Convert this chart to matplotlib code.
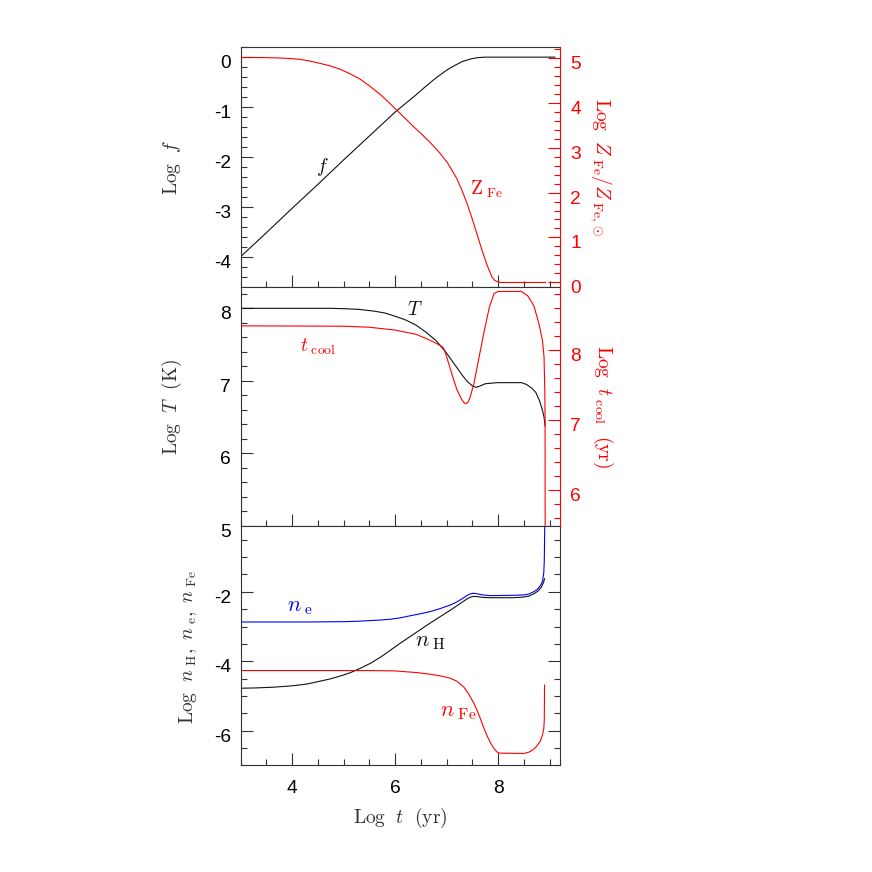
import matplotlib
matplotlib.use('Agg')
import matplotlib.pyplot as plt
import matplotlib.transforms as mtransforms
from matplotlib.ticker import MultipleLocator

# values (x = Log t [yr])
t_f = [3.0, 3.5, 4.0, 4.5, 5.0, 5.5, 5.75, 6.0, 6.2, 6.4, 6.6, 6.8, 7.0, 7.15, 7.3, 7.45,
       7.6, 7.75, 9.1]
log_f = [-4.00, -3.52, -3.03, -2.55, -2.06, -1.58, -1.34, -1.10, -0.93, -0.76, -0.58, -0.41,
         -0.26, -0.17, -0.09, -0.04, -0.01, 0.0, 0.0]

t_zfe = [3.0, 3.4, 3.75, 4.0, 4.15, 4.35, 4.54, 4.75, 4.93, 5.12, 5.32, 5.5, 5.71, 5.87, 6.03,
         6.2, 6.36, 6.52, 6.68, 6.85, 7.01, 7.1, 7.2, 7.3, 7.4, 7.5, 7.59, 7.69, 7.79, 7.84,
         7.88, 7.93, 7.98, 8.05, 8.92]
log_zfe = [5.00, 5.00, 4.99, 4.975, 4.96, 4.92, 4.87, 4.81, 4.74, 4.64, 4.52, 4.37, 4.18, 4.01,
           3.83, 3.64, 3.46, 3.29, 3.11, 2.90, 2.67, 2.50, 2.30, 2.04, 1.74, 1.40, 1.07, 0.70,
           0.37, 0.23, 0.12, 0.05, 0.02, 0.0, 0.0]

t_T = [3.0, 4.7, 5.0, 5.3, 5.6, 5.8, 6.0, 6.2, 6.4, 6.6, 6.8, 6.92, 7.0, 7.1, 7.2, 7.3, 7.4,
       7.5, 7.57, 7.65, 7.75, 7.9, 8.0, 8.45, 8.55, 8.65, 8.73, 8.8, 8.85, 8.89, 8.91]
log_T = [8.00, 8.00, 7.995, 7.985, 7.96, 7.935, 7.89, 7.84, 7.77, 7.67, 7.55, 7.45, 7.38, 7.28,
         7.18, 7.08, 6.99, 6.93, 6.91, 6.93, 6.96, 6.97, 6.975, 6.975, 6.95, 6.90, 6.84, 6.73,
         6.62, 6.50, 6.38]

t_cool_x = [3.0, 5.0, 5.5, 5.75, 6.0, 6.2, 6.4, 6.6, 6.8, 6.92, 6.96, 7.04, 7.14, 7.2, 7.27,
            7.33, 7.37, 7.41, 7.45, 7.53, 7.63, 7.73, 7.83, 7.92, 8.0, 8.45, 8.57, 8.65, 8.7,
            8.79, 8.86, 8.89, 8.905, 8.91, 8.912]
log_tcool = [8.34, 8.335, 8.32, 8.30, 8.28, 8.25, 8.22, 8.16, 8.09, 8.04, 7.99, 7.80, 7.56, 7.43,
             7.32, 7.25, 7.23, 7.25, 7.31, 7.52, 7.90, 8.27, 8.61, 8.80, 8.83, 8.83, 8.77, 8.68,
             8.61, 8.37, 8.13, 7.90, 7.40, 7.05, 5.0]

t_ne = [3.0, 4.3, 5.0, 5.26, 5.5, 5.7, 5.91, 6.1, 6.36, 6.5, 6.68, 6.88, 7.07, 7.2, 7.3, 7.4,
        7.46, 7.52, 7.6, 7.7, 7.85, 8.3, 8.5, 8.6, 8.7, 8.76, 8.82, 8.86, 8.885, 8.895, 8.90,
        8.905]
log_ne = [-2.87, -2.87, -2.86, -2.85, -2.83, -2.815, -2.79, -2.75, -2.67, -2.63, -2.57, -2.48,
          -2.38, -2.29, -2.20, -2.10, -2.06, -2.04, -2.06, -2.09, -2.11, -2.10, -2.09, -2.06,
          -1.99, -1.93, -1.82, -1.70, -1.45, -1.10, -0.55, 0.0]

t_nh = [3.0, 3.3, 3.63, 4.0, 4.28, 4.5, 4.74, 4.95, 5.13, 5.33, 5.52, 5.72, 5.91, 6.1, 6.36,
        6.5, 6.68, 6.88, 7.07, 7.27, 7.4, 7.47, 7.53, 7.6, 7.7, 7.85, 8.3, 8.5, 8.6, 8.7, 8.78,
        8.84, 8.88, 8.9]
log_nh = [-4.78, -4.77, -4.75, -4.71, -4.66, -4.59, -4.51, -4.42, -4.33, -4.20, -4.06, -3.88,
          -3.68, -3.48, -3.22, -3.08, -2.90, -2.71, -2.53, -2.33, -2.20, -2.15, -2.13, -2.14,
          -2.16, -2.17, -2.17, -2.15, -2.12, -2.05, -1.97, -1.86, -1.73, -1.62]

t_nfe = [3.0, 5.5, 6.0, 6.43, 6.7, 6.9, 7.07, 7.2, 7.33, 7.43, 7.53, 7.6, 7.66, 7.72, 7.79,
         7.86, 7.92, 7.97, 8.02, 8.5, 8.6, 8.69, 8.76, 8.82, 8.86, 8.885, 8.895, 8.90]
log_nfe = [-4.27, -4.27, -4.28, -4.33, -4.38, -4.43, -4.49, -4.58, -4.74, -4.95, -5.22, -5.45,
           -5.68, -5.92, -6.17, -6.38, -6.52, -6.61, -6.65, -6.66, -6.62, -6.54, -6.43, -6.29,
           -6.13, -5.95, -5.70, -4.69]

plt.rcParams['mathtext.fontset'] = 'cm'
plt.rcParams['axes.unicode_minus'] = False
plt.rcParams['font.family'] = 'Liberation Sans'

RED = '#ff0000'
BLUE = '#0000ff'
INK = '#111111'
AXC = '#333333'
LW = 0.8
TICK_FS = 13.8
LAB_FS = 14
N_FS = 16


def style_axis(ax, labelbottom=False, right_ticks=False):
    ax.set_xlim(3, 9.2)
    ax.xaxis.set_major_locator(MultipleLocator(2))
    ax.xaxis.set_minor_locator(MultipleLocator(0.5))
    ax.tick_params(axis='both', which='both', direction='in', top=False,
                   right=right_ticks, colors=AXC, labelcolor='black',
                   labelsize=TICK_FS, width=0.8)
    ax.tick_params(axis='both', which='major', length=8.5)
    ax.tick_params(axis='both', which='minor', length=4.5)
    ax.tick_params(axis='y', pad=7)
    ax.tick_params(axis='x', pad=10.5, labelbottom=labelbottom)
    for s in ax.spines.values():
        s.set_color(AXC)
        s.set_linewidth(0.8)


def style_twin(ax):
    ax.tick_params(axis='y', which='both', direction='in', colors=RED,
                   labelsize=TICK_FS, width=0.8, pad=7.5)
    ax.tick_params(axis='y', which='major', length=8.5)
    ax.tick_params(axis='y', which='minor', length=4.5)
    for name, s in ax.spines.items():
        s.set_visible(name == 'right')
    ax.spines['right'].set_color(RED)
    ax.spines['right'].set_linewidth(0.8)


fig = plt.figure(figsize=(8.72, 8.72), dpi=100)
L, W, H = 0.276, 0.3662, 0.2745
ax1 = fig.add_axes([L, 0.6714, W, H])
ax2 = fig.add_axes([L, 0.3969, W, H])
ax3 = fig.add_axes([L, 0.1224, W, H])

# top panel: f and Z_Fe
style_axis(ax1)
ax1.spines['right'].set_visible(False)
ax1.plot(t_f, log_f, color=INK, lw=LW)
ax1.set_ylim(-4.6, 0.2)
ax1.yaxis.set_major_locator(MultipleLocator(1))
ax1.yaxis.set_minor_locator(MultipleLocator(0.2))
ax1.text(4.58, -2.2, r'$f$', fontsize=LAB_FS, ha='center', va='center', color=INK)
ax1r = ax1.twinx()
style_twin(ax1r)
ax1r.plot(t_zfe, log_zfe, color=RED, lw=LW)
ax1r.set_ylim(-0.09, 5.23)
ax1r.yaxis.set_major_locator(MultipleLocator(1))
ax1r.yaxis.set_minor_locator(MultipleLocator(0.2))
ax1r.text(7.77, 2.07, r'$\mathrm{Z}_{\ \mathrm{Fe}}$', fontsize=LAB_FS, ha='center',
          va='center', color=RED)

# middle panel: T and t_cool
style_axis(ax2)
ax2.spines['right'].set_visible(False)
ax2.plot(t_T, log_T, color=INK, lw=LW)
ax2.set_ylim(5, 8.3)
ax2.yaxis.set_major_locator(MultipleLocator(1))
ax2.yaxis.set_minor_locator(MultipleLocator(0.2))
ax2.text(6.39, 7.98, r'$T$', fontsize=LAB_FS, ha='center', va='center', color=INK)
ax2.text(4.51, 7.47, r'$t_{\ \mathrm{cool}}$', fontsize=LAB_FS, ha='center', va='center',
         color=RED)
ax2r = ax2.twinx()
style_twin(ax2r)
ax2r.plot(t_cool_x, log_tcool, color=RED, lw=LW)
ax2r.set_ylim(5.49, 8.9)
ax2r.yaxis.set_major_locator(MultipleLocator(1))
ax2r.yaxis.set_minor_locator(MultipleLocator(0.2))

# bottom panel: densities
style_axis(ax3, labelbottom=True, right_ticks=True)
ax3.plot(t_ne, log_ne, color=BLUE, lw=LW)
ax3.plot(t_nh, log_nh, color=INK, lw=LW)
ax3.plot(t_nfe, log_nfe, color=RED, lw=LW)
ax3.set_ylim(-7, -0.1)
ax3.yaxis.set_major_locator(MultipleLocator(2))
ax3.yaxis.set_minor_locator(MultipleLocator(0.5))
ax3.text(4.15, -2.42, r'$n_{\ \mathrm{e}}$', fontsize=N_FS, ha='center', va='center', color=BLUE)
ax3.text(6.68, -3.44, r'$n_{\ \mathrm{H}}$', fontsize=N_FS, ha='center', va='center', color=INK)
ax3.text(7.23, -5.46, r'$n_{\ \mathrm{Fe}}$', fontsize=N_FS, ha='center', va='center', color=RED)

# axis titles
fig.text(0.1969, 0.8085, r'$\mathrm{Log}\ \ f$', rotation=90, fontsize=LAB_FS,
         ha='center', va='center', color='#333333')
fig.text(0.1969, 0.5338, r'$\mathrm{Log}\ \ T\ \ (\mathrm{K})$', rotation=90,
         fontsize=LAB_FS, ha='center', va='center', color='#333333')
fig.text(0.2156, 0.2584, r'$\mathrm{Log}\ \ n_{\ \mathrm{H}},\ n_{\ \mathrm{e}},\ n_{\ \mathrm{Fe}}$',
         rotation=90, fontsize=LAB_FS, ha='center', va='center', color='#333333')
fig.text(0.6892, 0.8085, r'$\mathrm{Log}\ \ Z_{\ \mathrm{Fe}}/Z_{\ \mathrm{Fe},\odot}$',
         rotation=-90, fontsize=LAB_FS, ha='center', va='center', color=RED)
fig.text(0.6915, 0.5338, r'$\mathrm{Log}\ \ t_{\ \mathrm{cool}}\ \ (\mathrm{yr})$',
         rotation=-90, fontsize=LAB_FS, ha='center', va='center', color=RED)
fig.text(0.4587, 0.0619, r'$\mathrm{Log}\ \ t\ \ (\mathrm{yr})$', fontsize=LAB_FS,
         ha='center', va='center', color='#333333')

# y tick labels sit a little below their ticks in the reference
offset = mtransforms.ScaledTranslation(0, -0.045, fig.dpi_scale_trans)
for ax in (ax1, ax2, ax3, ax1r, ax2r):
    for lab in ax.get_yticklabels():
        lab.set_transform(lab.get_transform() + offset)

fig.savefig('out.png', dpi=100)
